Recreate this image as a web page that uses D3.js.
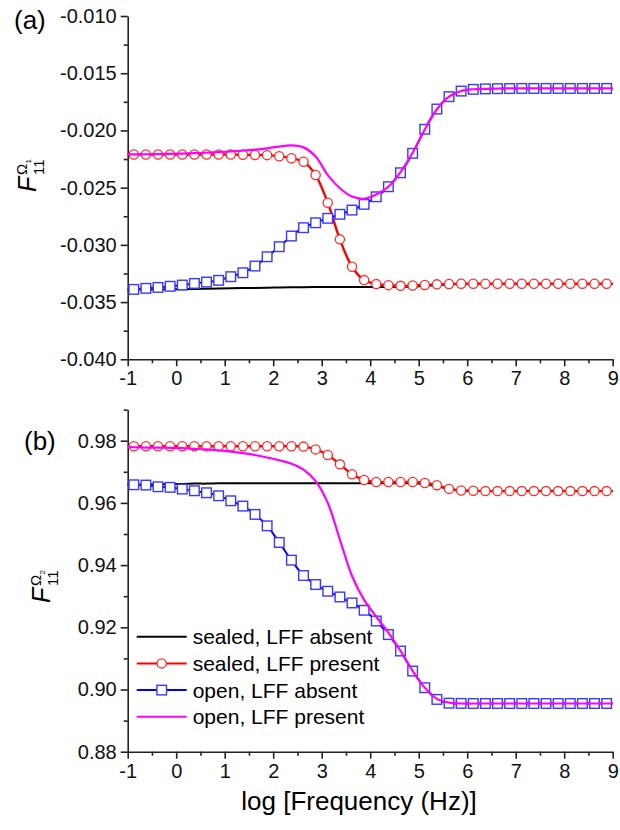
<!DOCTYPE html>
<html>
<head>
<meta charset="utf-8">
<script src="https://cdn.jsdelivr.net/npm/d3@7"></script>
<style>
  body { margin: 0; background: #fff; }
  svg text { font-family: "Liberation Sans", Arial, sans-serif; }
  .axis path, .axis line { stroke: #222; stroke-width: 1.6; }
  .axis text { font-size: 20px; fill: #111; font-family: "Liberation Sans", Arial, sans-serif; }
</style>
</head>
<body>
<div id="Chart"></div>
<script>
var w = 620;
var h = 830;

// log frequency grid (ends + marker positions)
var logF = [-1, -0.875, -0.625, -0.375, -0.125, 0.125, 0.375, 0.625, 0.875, 1.125,
    1.375, 1.625, 1.875, 2.125, 2.375, 2.625, 2.875, 3.125, 3.375, 3.625,
    3.875, 4.125, 4.375, 4.625, 4.875, 5.125, 5.375, 5.625, 5.875, 6.125,
    6.375, 6.625, 6.875, 7.125, 7.375, 7.625, 7.875, 8.125, 8.375, 8.625,
    8.875, 9];

var seriesNames = ["sealed, LFF absent", "sealed, LFF present", "open, LFF absent", "open, LFF present"];

// panel (a)
var aSealedAbsent = [-0.03390, -0.03390, -0.03390, -0.03389, -0.03388, -0.03387, -0.03386, -0.03384, -0.03382, -0.03380,
    -0.03378, -0.03376, -0.03374, -0.03372, -0.03371, -0.03370, -0.03369, -0.03369, -0.03368, -0.03368,
    -0.03368, -0.03368, -0.03368, -0.03367, -0.03365, -0.03360, -0.03352, -0.03346, -0.03343, -0.03342,
    -0.03342, -0.03342, -0.03342, -0.03342, -0.03342, -0.03342, -0.03342, -0.03342, -0.03342, -0.03342,
    -0.03342, -0.03342];
var aSealedPresent = [-0.02210, -0.02210, -0.02210, -0.02210, -0.02210, -0.02210, -0.02210, -0.02210, -0.02210, -0.02211,
    -0.02212, -0.02214, -0.02216, -0.02225, -0.02243, -0.02274, -0.02390, -0.02632, -0.02952, -0.03191,
    -0.03308, -0.03343, -0.03352, -0.03358, -0.03355, -0.03350, -0.03345, -0.03342, -0.03340, -0.03340,
    -0.03340, -0.03340, -0.03340, -0.03340, -0.03340, -0.03340, -0.03340, -0.03340, -0.03340, -0.03340,
    -0.03340, -0.03340];
var aOpenAbsent = [-0.03392, -0.03389, -0.03380, -0.03372, -0.03362, -0.03351, -0.03337, -0.03325, -0.03310, -0.03278,
    -0.03244, -0.03185, -0.03104, -0.03016, -0.02923, -0.02850, -0.02807, -0.02768, -0.02733, -0.02696,
    -0.02646, -0.02580, -0.02492, -0.02370, -0.02200, -0.01990, -0.01813, -0.01705, -0.01656, -0.01641,
    -0.01637, -0.01635, -0.01634, -0.01633, -0.01633, -0.01633, -0.01633, -0.01633, -0.01633, -0.01633,
    -0.01633, -0.01633];
var aOpenPresent = [-0.02210, -0.02210, -0.02209, -0.02207, -0.02205, -0.02202, -0.02199, -0.02195, -0.02190, -0.02184,
    -0.02177, -0.02168, -0.02156, -0.02141, -0.02130, -0.02148, -0.02228, -0.02390, -0.02505, -0.02578,
    -0.02597, -0.02560, -0.02492, -0.02365, -0.02195, -0.01993, -0.01815, -0.01705, -0.01655, -0.01640,
    -0.01636, -0.01634, -0.01633, -0.01633, -0.01633, -0.01633, -0.01633, -0.01633, -0.01633, -0.01633,
    -0.01633, -0.01633];

// panel (b)
var bSealedAbsent = [0.9658, 0.9658, 0.9659, 0.9660, 0.9661, 0.9661, 0.9662, 0.9662, 0.9663, 0.9663,
    0.9663, 0.9663, 0.9663, 0.9663, 0.9663, 0.9663, 0.9663, 0.9663, 0.9663, 0.9663,
    0.9663, 0.9663, 0.9663, 0.9663, 0.9663, 0.9660, 0.9654, 0.9645, 0.9640, 0.9639,
    0.9638, 0.9638, 0.9638, 0.9638, 0.9638, 0.9638, 0.9638, 0.9638, 0.9638, 0.9638,
    0.9638, 0.9638];
var bSealedPresent = [0.9782, 0.9782, 0.9782, 0.9782, 0.9782, 0.9782, 0.9782, 0.9782, 0.9782, 0.9782,
    0.9782, 0.9782, 0.9782, 0.9782, 0.9782, 0.9781, 0.9772, 0.9754, 0.9724, 0.9692,
    0.9674, 0.9667, 0.9667, 0.9667, 0.9667, 0.9664, 0.9657, 0.9645, 0.9640, 0.9639,
    0.9638, 0.9638, 0.9638, 0.9638, 0.9638, 0.9638, 0.9638, 0.9638, 0.9638, 0.9638,
    0.9638, 0.9638];
var bOpenAbsent = [0.9659, 0.96583, 0.96573, 0.96519, 0.96500, 0.96445, 0.96390, 0.96326, 0.96229, 0.96068,
    0.95897, 0.95630, 0.95263, 0.94728, 0.94158, 0.93665, 0.93375, 0.93160, 0.92976, 0.92783,
    0.92548, 0.92203, 0.91766, 0.91237, 0.90593, 0.90058, 0.89681, 0.89560, 0.89553, 0.8955,
    0.8955, 0.8955, 0.8955, 0.8955, 0.8955, 0.8955, 0.8955, 0.8955, 0.8955, 0.8955,
    0.8955, 0.8955];
var bOpenPresent = [0.9779, 0.9779, 0.9778, 0.9778, 0.9777, 0.9776, 0.9774, 0.9772, 0.9769, 0.9765,
    0.9760, 0.9754, 0.9746, 0.9737, 0.9726, 0.9707, 0.9670, 0.9600, 0.9482, 0.9365,
    0.9288, 0.9234, 0.9183, 0.9124, 0.9060, 0.9006, 0.8970, 0.8958, 0.8955, 0.8955,
    0.8955, 0.8955, 0.8955, 0.8955, 0.8955, 0.8955, 0.8955, 0.8955, 0.8955, 0.8955,
    0.8955, 0.8955];

var xTickVals = [-1, 0, 1, 2, 3, 4, 5, 6, 7, 8, 9];
var aTickVals = [-0.040, -0.035, -0.030, -0.025, -0.020, -0.015, -0.010];
var bTickVals = [0.88, 0.90, 0.92, 0.94, 0.96, 0.98];

var colors = ["#000000", "#ff0000", "#0000ff", "#ff00ff"];

var svg = d3.select("#Chart").append("svg")
    .attr("width", w)
    .attr("height", h);

var x = d3.scaleLinear().domain([-1, 9]).range([127.7, 612.7]);

// plain hyphen instead of unicode minus, like the original
function fmtHyphen(spec) {
    var f = d3.format(spec);
    return function(d){ return f(d).replace("\u2212", "-"); };
}

function doPanel(cfg)
{
    var y = d3.scaleLinear().domain(cfg.domain).range(cfg.range);
    var g = svg.append("g");

    // minor ticks
    g.append("g").attr("class", "axis")
        .attr("transform", "translate(0," + cfg.range[0] + ")")
        .call(d3.axisBottom(x).tickValues(d3.range(-0.5, 9, 1)).tickSize(4).tickFormat(""))
        .select(".domain").remove();
    g.append("g").attr("class", "axis")
        .attr("transform", "translate(" + x.range()[0] + ",0)")
        .call(d3.axisLeft(y).tickValues(cfg.minor).tickSize(4).tickFormat(""))
        .select(".domain").remove();

    g.append("g").attr("class", "axis")
        .attr("transform", "translate(0," + cfg.range[0] + ")")
        .call(d3.axisBottom(x).tickValues(xTickVals).tickSize(7).tickSizeOuter(0).tickPadding(5).tickFormat(fmtHyphen("d")));
    g.append("g").attr("class", "axis")
        .attr("transform", "translate(" + x.range()[0] + ",0)")
        .call(d3.axisLeft(y).tickValues(cfg.ticks).tickSize(7).tickSizeOuter(0).tickPadding(4).tickFormat(fmtHyphen(cfg.fmt)));

    var line = d3.line()
        .x(function(d, i){ return x(logF[i]); })
        .y(function(d){ return y(d); })
        .curve(d3.curveCatmullRom.alpha(0.5));

    var widths = [2, 2.4, 2, 2.2];
    [0, 1, 2, 3].forEach(function(k){
        g.append("path")
            .attr("d", line(cfg.series[k]))
            .attr("fill", "none")
            .attr("stroke", colors[k])
            .attr("stroke-width", widths[k]);

        var pts = cfg.series[k].filter(function(d, i){ return i > 0 && i < logF.length - 1; });
        if (k == 1) {
            g.selectAll(null).data(pts).enter().append("circle")
                .attr("cx", function(d, i){ return x(logF[i + 1]); })
                .attr("cy", function(d){ return y(d); })
                .attr("r", 4.6)
                .attr("fill", "#fff")
                .attr("stroke", "#ff2a2a")
                .attr("stroke-width", 1.3);
        }
        if (k == 2) {
            g.selectAll(null).data(pts).enter().append("rect")
                .attr("x", function(d, i){ return x(logF[i + 1]) - 4.8; })
                .attr("y", function(d){ return y(d) - 4.8; })
                .attr("width", 9.6)
                .attr("height", 9.6)
                .attr("fill", "#fff")
                .attr("stroke", "#3838ff")
                .attr("stroke-width", 1.4);
        }
    });

    // panel letter
    svg.append("text")
        .attr("x", cfg.letterX).attr("y", cfg.letterY)
        .style("font-size", "26px")
        .text(cfg.letter);

    // y label: F with superscript Omega_n and subscript 11
    var lab = svg.append("g")
        .attr("transform", "translate(" + cfg.labX + "," + cfg.labY + ") rotate(-90)");
    lab.append("text").attr("x", 0).attr("y", 0)
        .style("font-size", "25px").style("font-style", "italic").text("F");
    lab.append("text").attr("x", 17).attr("y", -9)
        .style("font-size", "15px").text("\u03A9");
    lab.append("text").attr("x", 28.5).attr("y", -5)
        .style("font-size", "8px").text(cfg.omegaSub);
    lab.append("text").attr("x", 17).attr("y", 8)
        .style("font-size", "15px").text("11");
}

doPanel({
    domain: [-0.040, -0.010], range: [359.3, 16],
    ticks: aTickVals, minor: d3.range(-0.0375, -0.010, 0.005), fmt: ".3f",
    series: [aSealedAbsent, aSealedPresent, aOpenAbsent, aOpenPresent],
    letter: "(a)", letterX: 14, letterY: 29,
    labX: 36, labY: 192, omegaSub: "1"
});

doPanel({
    domain: [0.88, 0.99], range: [751.7, 409.6],
    ticks: bTickVals, minor: [0.89, 0.91, 0.93, 0.95, 0.97, 0.99], fmt: ".2f",
    series: [bSealedAbsent, bSealedPresent, bOpenAbsent, bOpenPresent],
    letter: "(b)", letterX: 24, letterY: 450,
    labX: 50, labY: 603, omegaSub: "2"
});

// legend
var legend = svg.append("g").attr("class", "legend");
seriesNames.forEach(function(name, i){
    var ly = 636.7 + i * 26.7;
    legend.append("line")
        .attr("x1", 136.7).attr("x2", 186.7)
        .attr("y1", ly).attr("y2", ly)
        .attr("stroke", colors[i]).attr("stroke-width", 2);
    if (i == 1) {
        legend.append("circle").attr("cx", 161.7).attr("cy", ly).attr("r", 4.6)
            .attr("fill", "#fff").attr("stroke", "#ff2a2a").attr("stroke-width", 1.3);
    }
    if (i == 2) {
        legend.append("rect").attr("x", 161.7 - 4.8).attr("y", ly - 4.8)
            .attr("width", 9.6).attr("height", 9.6)
            .attr("fill", "#fff").attr("stroke", "#3838ff").attr("stroke-width", 1.4);
    }
    legend.append("text")
        .attr("x", 192.7).attr("y", ly + 7.5)
        .style("font-size", "21px")
        .text(name);
});

svg.append("text")
    .attr("x", 359).attr("y", 810)
    .attr("text-anchor", "middle")
    .style("font-size", "26px")
    .text("log [Frequency (Hz)]");
</script>
</body>
</html>
